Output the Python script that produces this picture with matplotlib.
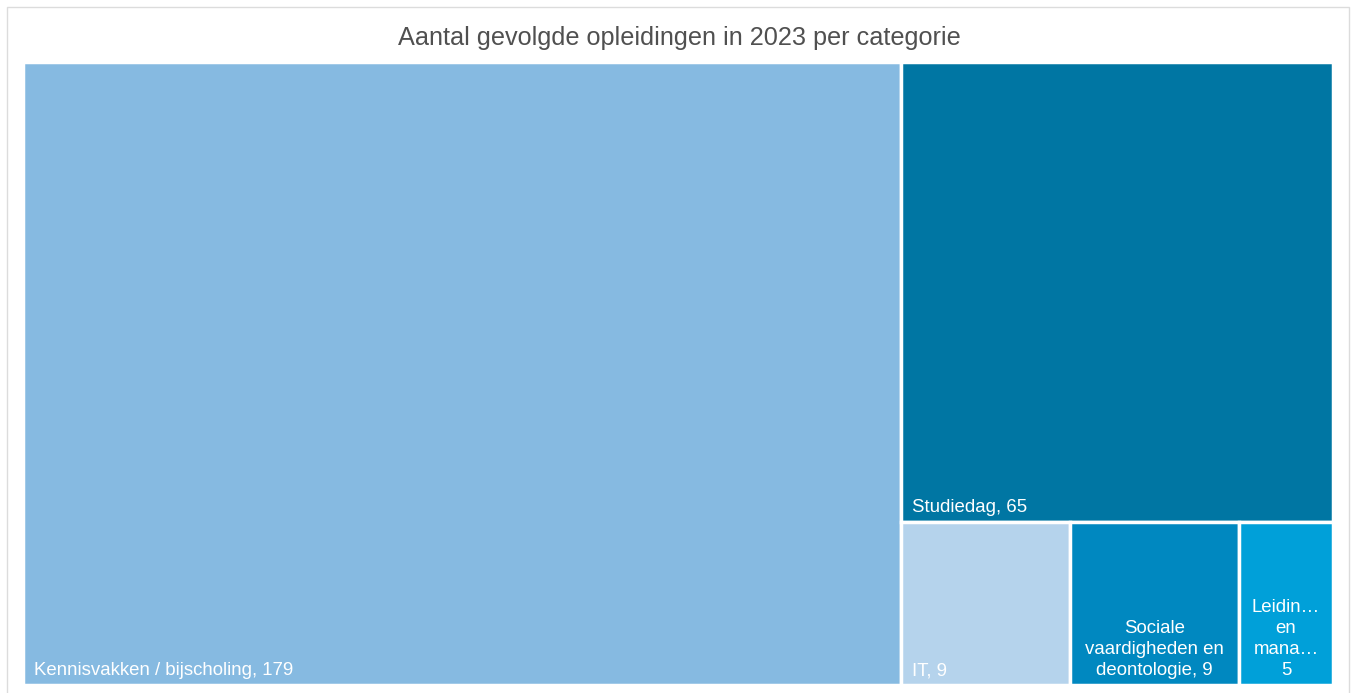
import matplotlib.pyplot as plt
from matplotlib.patches import Rectangle

plt.rcParams['font.family'] = ['Liberation Sans', 'DejaVu Sans']

# data
categories = ['Kennisvakken / bijscholing', 'Studiedag', 'IT',
              'Sociale vaardigheden en deontologie',
              'Leiding geven en management']
values = [179, 65, 9, 9, 5]
labels = ['Kennisvakken / bijscholing, 179', 'Studiedag, 65', 'IT, 9',
          'Sociale\nvaardigheden en\ndeontologie, 9', 'Leidin\u2026\nen\nmana\u2026\n5']
colors = ['#86bae1', '#0076a3', '#b5d3ec', '#0088c0', '#00a0d9']
centered = [False, False, False, True, True]

W, H = 1310.0, 623.0


def worst(row, side):
    s = sum(row)
    return max(max(side * side * r / (s * s), s * s / (side * side * r)) for r in row)


def squarify(areas, x, y, w, h):
    rects = []
    areas = list(areas)
    while areas:
        side = min(w, h)
        row = [areas[0]]
        i = 1
        while i < len(areas) and worst(row + [areas[i]], side) <= worst(row, side):
            row.append(areas[i])
            i += 1
        areas = areas[i:]
        s = sum(row)
        if w >= h:
            cw = s / h
            cy = y
            for r in row:
                rh = r / cw
                rects.append((x, cy, cw, rh))
                cy += rh
            x += cw
            w -= cw
        else:
            rh = s / w
            cx = x
            for r in row:
                rw = r / rh
                rects.append((cx, y, rw, rh))
                cx += rw
            y += rh
            h -= rh
    return rects


total = sum(values)
areas = [v / total * W * H for v in values]
rects = squarify(areas, 0, 0, W, H)

fig = plt.figure(figsize=(13.54, 6.93), dpi=100)
fw, fh = 1354, 693

# outer frame
frame = Rectangle((7 / fw, -0.01), (1349 - 7) / fw, 1 - 7 / fh + 0.01,
                  transform=fig.transFigure, fill=False, edgecolor='#dcdcdc', linewidth=1)
fig.patches.append(frame)

pad = 2
x0, y0 = 23, 62
ax = fig.add_axes([(x0 - pad) / fw, (fh - y0 - H - pad) / fh,
                   (W + 2 * pad) / fw, (H + 2 * pad) / fh])
ax.set_xlim(-pad, W + pad)
ax.set_ylim(H + pad, -pad)
ax.axis('off')

for (x, y, w, h), c, lab, cen in zip(rects, colors, labels, centered):
    ax.add_patch(Rectangle((x, y), w, h, facecolor=c, edgecolor='white', linewidth=2.5))
    if cen:
        ax.text(x + w / 2, y + h - 10, lab, color='white', fontsize=13.4,
                ha='center', va='baseline', linespacing=1.32)
    else:
        ax.text(x + 11, y + h - 10, lab, color='white', fontsize=13.4,
                ha='left', va='baseline')

fig.text(679 / fw, 1 - 38 / fh, 'Aantal gevolgde opleidingen in 2023 per categorie',
         ha='center', va='center', fontsize=18.2, color='#505050')

fig.savefig('out.png', dpi=100)
